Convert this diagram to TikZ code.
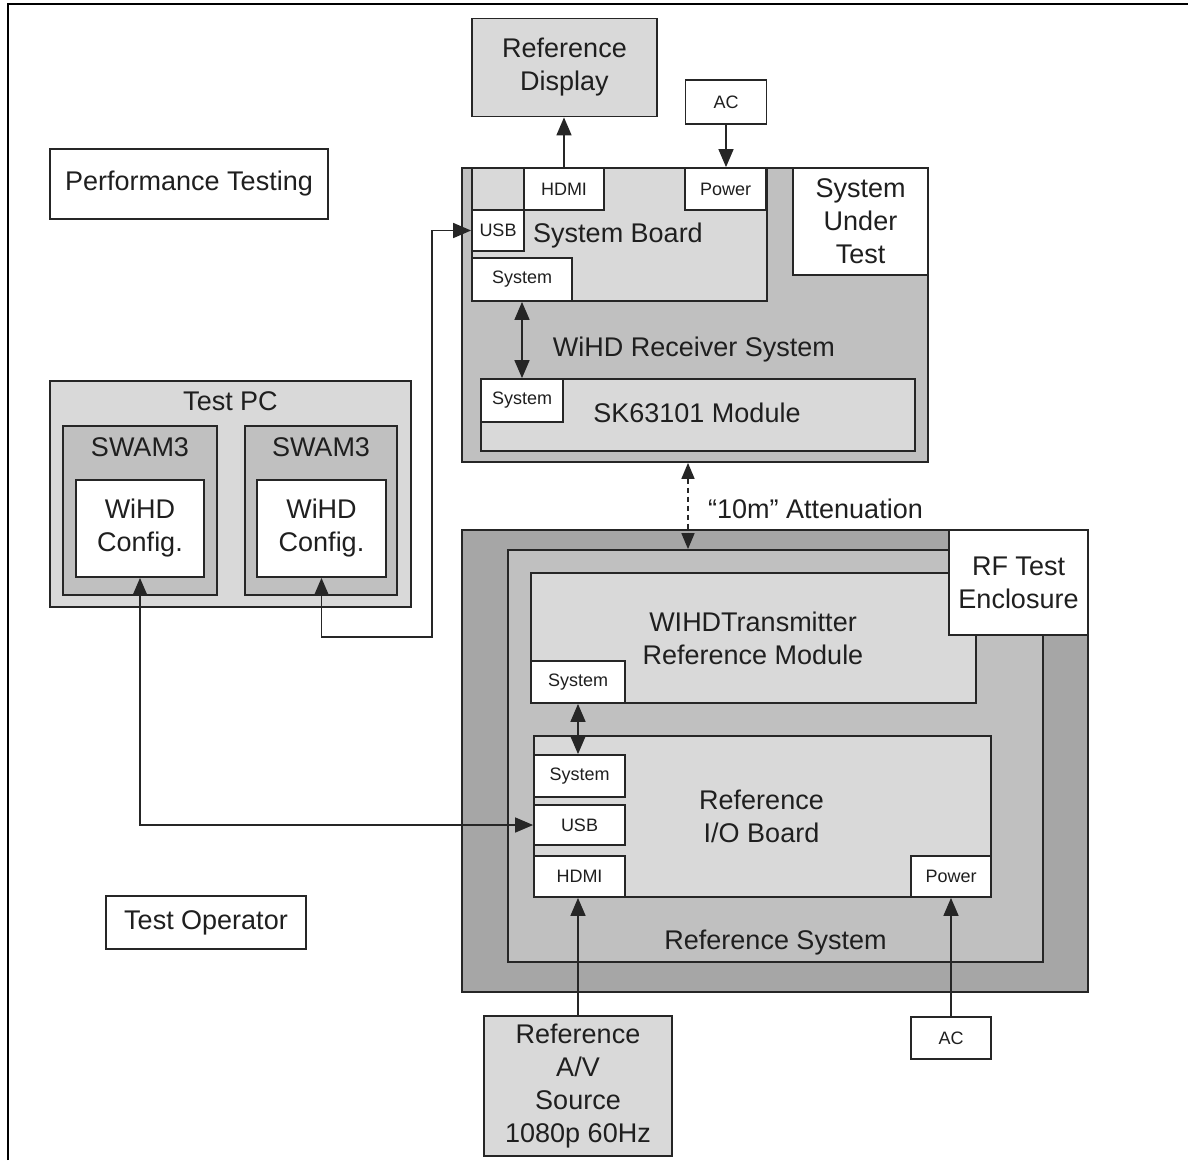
\documentclass[tikz,border=0pt]{standalone}
\usepackage{fontspec}
\setmainfont{Liberation Sans}
\usetikzlibrary{arrows.meta}

\definecolor{edge}{HTML}{262626}
\definecolor{ink}{HTML}{1F1F1F}
\definecolor{paleGray}{HTML}{D9D9D9}
\definecolor{midGray}{HTML}{C0C0C0}
\definecolor{darkGray}{HTML}{A6A6A6}

\newcommand\bigtext{\fontsize{27}{33}\selectfont}
\newcommand\smalltext{\fontsize{18}{22}\selectfont}

\begin{document}
\begin{tikzpicture}[x=1pt,y=-1pt,
  box/.style={draw=edge, line width=1.8pt, inner sep=0pt, align=center,
              text=ink, font=\bigtext},
  port/.style={box, fill=white, font=\smalltext},
  caption/.style={inner sep=0pt, text=ink, font=\bigtext,
                  text height=19.5pt, text depth=0pt},
  captions/.style={inner sep=0pt, text=ink, font=\bigtext, align=center},
  >={Triangle[length=18pt,width=15pt]},
  wire/.style={draw=edge, line width=1.6pt},
  radio/.style={wire, dash pattern=on 5pt off 4pt,
                >={Triangle[length=16pt,width=13pt]}}]

\useasboundingbox (0,0) rectangle (1188,1160);

% page frame (top and left rules)
\draw[line width=2.5pt, black] (8,1160) -- (8,4) -- (1188,4);

% ---------- left column ----------
\node[box, fill=white, minimum width=278pt, minimum height=70pt] (perf) at (189,184) {Performance Testing};

\node[box, fill=paleGray, minimum width=361pt, minimum height=226pt] (testPC) at (230.5,494) {};
\node[caption] (testPCTitle) at (230.5,401) {Test PC};
\node[box, fill=midGray, minimum width=154pt, minimum height=169pt] (swamL) at (140,510.5) {};
\node[box, fill=midGray, minimum width=152pt, minimum height=169pt] (swamR) at (321,510.5) {};
\node[caption] (swamLTitle) at (140,447) {SWAM3};
\node[caption] (swamRTitle) at (321,447) {SWAM3};
\node[box, fill=white, minimum width=128pt, minimum height=97pt] (cfgL) at (140,528.5) {WiHD\\Config.};
\node[box, fill=white, minimum width=129pt, minimum height=97pt] (cfgR) at (321.5,528.5) {WiHD\\Config.};

\node[box, fill=white, minimum width=200pt, minimum height=53pt] (testOp) at (206,922.5) {Test Operator};

% ---------- system under test ----------
\node[box, fill=paleGray, minimum width=185pt, minimum height=98pt] (refdisp) at (564.5,67.5) {Reference\\Display};
\node[port, minimum width=81pt, minimum height=44pt] (acTop) at (726,102) {AC};

\node[box, fill=midGray, minimum width=466pt, minimum height=294pt] (wihdRx) at (695,315) {};
\node[box, fill=paleGray, minimum width=295pt, minimum height=133pt] (sysBoard) at (619.5,234.5) {};
\node[port, minimum width=80pt, minimum height=42pt] (hdmiRx) at (564,189) {HDMI};
\node[port, minimum width=81pt, minimum height=42pt] (powerRx) at (725.5,189) {Power};
\node[port, minimum width=52pt, minimum height=41pt] (usbRx) at (498,230.5) {USB};
\node[port, minimum width=100pt, minimum height=43pt] (sysRxB) at (522,279.5) {System};
\node[box, fill=white, minimum width=135pt, minimum height=107pt] (sut) at (860.5,221.5) {System\\Under\\Test};
\node[caption] (sbTitle) at (618,233) {System Board};
\node[caption] (rxTitle) at (694,347) {WiHD Receiver System};
\node[box, fill=paleGray, minimum width=434pt, minimum height=72pt] (skModule) at (698,415) {};
\node[port, minimum width=82pt, minimum height=43pt] (sysRxM) at (522,400.5) {System};
\node[caption] (skTitle) at (697,413) {SK63101 Module};

% ---------- RF test enclosure ----------
\node[box, fill=darkGray, minimum width=626pt, minimum height=462pt] (rfEncl) at (775,761) {};
\node[box, fill=midGray, minimum width=535pt, minimum height=412pt] (refSys) at (775.5,756) {};
\node[box, fill=paleGray, minimum width=445pt, minimum height=130pt] (txModule) at (753.5,638) {};
\node[captions] (txTitle) at (753,638) {WIHDTransmitter\\Reference Module};
\node[port, minimum width=94pt, minimum height=42pt] (sysTx) at (578,682) {System};
\node[box, fill=white, minimum width=139pt, minimum height=105pt] (rfLabel) at (1018.5,582.5) {RF Test\\Enclosure};

\node[box, fill=paleGray, minimum width=457pt, minimum height=161pt] (ioBoard) at (762.5,816.5) {};
\node[captions] (ioTitle) at (761.5,816) {Reference\\I/O Board};
\node[port, minimum width=91pt, minimum height=42pt] (sysIo) at (579.5,776) {System};
\node[port, minimum width=91pt, minimum height=40pt] (usbIo) at (579.5,825) {USB};
\node[port, minimum width=91pt, minimum height=41pt] (hdmiIo) at (579.5,876.5) {HDMI};
\node[port, minimum width=80pt, minimum height=41pt] (powerIo) at (951,876.5) {Power};
\node[caption] (refSysTitle) at (775.5,940) {Reference System};

\node[box, fill=paleGray, minimum width=188pt, minimum height=140pt] (avSrc) at (578,1086) {Reference\\A/V\\Source\\1080p 60Hz};
\node[port, minimum width=80pt, minimum height=42pt] (acBot) at (951,1038) {AC};

% ---------- connectors ----------
\draw[wire,->] (hdmiRx.north) -- (hdmiRx.north |- refdisp.south);
\draw[wire,->] (acTop.south) -- (acTop.south |- powerRx.north);
\draw[wire,<->] (sysRxB.south) -- (sysRxB.south |- sysRxM.north);

\coordinate (attn) at (688,500);
\draw[radio,<->] (attn |- wihdRx.south) -- (attn |- refSys.north);
\node[caption, anchor=west] (attnText) at (708,509) {“10m” Attenuation};

\draw[wire,<->] (sysTx.south) -- (sysTx.south |- sysIo.north);
\draw[wire,->] (avSrc.north) -- (avSrc.north |- hdmiIo.south);
\draw[wire,->] (acBot.north) -- (acBot.north |- powerIo.south);

\draw[wire,<->] (cfgL.south) -- (cfgL.south |- usbIo.west) -- (usbIo.west);

\coordinate (usbBend) at (432,637);
\draw[wire,<->] (cfgR.south) -- (cfgR.south |- usbBend) -- (usbBend)
      -- (usbBend |- usbRx.west) -- (usbRx.west);

\end{tikzpicture}
\end{document}
